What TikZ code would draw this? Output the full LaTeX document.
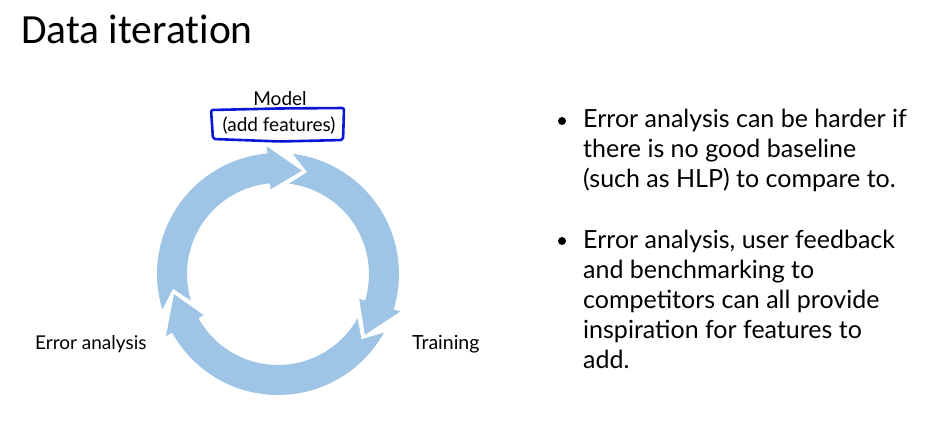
\documentclass[tikz,border=0pt]{standalone}
\usepackage{fontspec}
\setmainfont{Lato}
\newfontfamily\titlefont[Ligatures={NoCommon}]{Carlito}
\definecolor{ringblue}{RGB}{158,196,230}
\definecolor{penblue}{RGB}{14,22,214}
\begin{document}
\begin{tikzpicture}[x=1pt,y=1pt,
  cyclearrow/.style={fill=ringblue,draw=none},
  lbl/.style={inner sep=0pt,font=\fontsize{19}{22}\selectfont},
  bullettext/.style={inner sep=0pt,align=left,anchor=base west,
    font=\fontsize{25}{30}\selectfont},
  bulletdot/.style={circle,fill=black,inner sep=0pt,minimum size=8pt}]
\useasboundingbox[fill=white] (0,0) rectangle (946,432);

% title
\node[inner sep=0pt,anchor=base west,font=\titlefont\fontsize{41.5}{44}\selectfont]
  (title) at (21,388) {Data iteration};

% three arrows around the cycle (tail angle A, tip angle t, head base b)
\begin{scope}[shift={(278,158)}]
  \foreach \A/\t in {197/77, 83/-35, -29/-169}{
    \pgfmathsetmacro{\b}{\t+18}
    \pgfmathsetmacro{\n}{\A-9}
    \fill[cyclearrow] (\A:121pt) arc[start angle=\A,end angle=\b,radius=121pt]
      -- (\b:128pt) -- (\t:106pt) -- (\b:85pt) -- (\b:91pt)
      arc[start angle=\b,end angle=\A,radius=91pt]
      -- (\n:106pt) -- cycle;
  }
\end{scope}

% cycle labels
\node[lbl,anchor=base] (model) at (280,326) {Model};
\node[lbl,anchor=base] (feat) at (279,300) {(add features)};
\node[lbl,anchor=base west] (err) at (35,83) {Error analysis};
\node[lbl,anchor=base west,font=\fontsize{19.5}{22}\selectfont] (train) at (412,83) {Training};

% pen mark around the model label
\draw[penblue,line width=2.6pt,line join=round,rounded corners=2pt]
  (211,322) -- (278,323.5) -- (344,324) -- (343.5,306) -- (343,292)
  -- (280,290.5) -- (213,293) -- (212,308) -- cycle;

% bullet list (node base sits on the last line)
\node[bulletdot] (b1) at (562,311) {};
\node[bullettext] (t1) at (583,244)
  {Error analysis can be harder if\\there is no good baseline\\(such as HLP) to compare to.};
\node[bulletdot] (b2) at (562,191) {};
\node[bullettext] (t2) at (583,64)
  {Error analysis, user feedback\\and benchmarking to\\competitors can all provide\\inspiration for features to\\add.};
\end{tikzpicture}
\end{document}
